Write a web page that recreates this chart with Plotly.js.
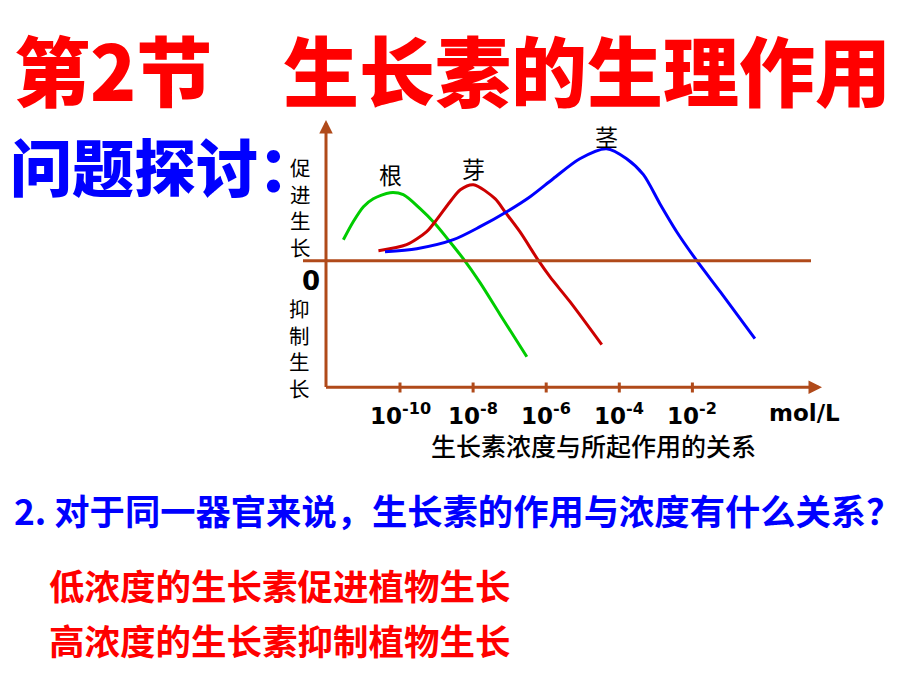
<!DOCTYPE html>
<html>
<head>
<meta charset="utf-8">
<script src="https://cdn.plot.ly/plotly-3.0.1.min.js"></script>
<style>
  html, body { margin: 0; padding: 0; background: #fff; }
  #chart { width: 920px; height: 690px; }
</style>
</head>
<body>
<div id="chart"></div>
<script>
// curve data: x = log10(concentration, mol/L), y = effect (+ promote, - inhibit)
const organNames = ["根", "芽", "茎"];

const rootConc = [-11.55, -11.28, -11.0, -10.73, -10.27, -9.91, -9.45, -9.04, -8.68, -8.27, -7.81, -7.26, -6.53];
const rootEffect = [0.21, 0.39, 0.54, 0.62, 0.68, 0.66, 0.52, 0.37, 0.21, 0.02, -0.22, -0.54, -0.96];

const budConc = [-10.59, -9.82, -9.27, -9.04, -8.63, -8.35, -7.99, -7.4, -7.13, -6.72, -6.21, -5.9, -5.35, -4.48];
const budEffect = [0.10, 0.16, 0.29, 0.39, 0.59, 0.71, 0.76, 0.62, 0.49, 0.29, 0.0, -0.16, -0.41, -0.84];

const stemConc = [-10.41, -9.54, -8.54, -7.81, -7.08, -6.44, -5.81, -5.08, -4.35, -3.8, -3.34, -2.89, -2.43, -1.88, -1.24, -0.29];
const stemEffect = [0.09, 0.12, 0.21, 0.34, 0.49, 0.64, 0.82, 1.02, 1.12, 1.02, 0.86, 0.57, 0.29, 0.0, -0.31, -0.78];

const tickExps = [-10, -8, -6, -4, -2];
const tickLabels = ["10<sup>-10</sup>", "10<sup>-8</sup>", "10<sup>-6</sup>", "10<sup>-4</sup>", "10<sup>-2</sup>"];

const upLabel = ["促", "进", "生", "长"];
const downLabel = ["抑", "制", "生", "长"];

const axisColor = "#b04a1a";
const curveColors = ["#00cc00", "#cc0000", "#0000ff"];
const cjk = "Noto Sans CJK SC, sans-serif";
const latin = "DejaVu Sans, Verdana, sans-serif";

// the plot area covers the whole page, so pixel positions map straight to data
const W = 920, H = 690;
function dx(px) { return -10 + (px - 400) / 36.55; }
function dy(py) { return (260.7 - py) / 100; }
function paperX(px) { return px / W; }
function paperY(py) { return 1 - py / H; }

const series = [
  { x: rootConc, y: rootEffect },
  { x: budConc, y: budEffect },
  { x: stemConc, y: stemEffect }
];

const traces = series.map((s, i) => ({
  x: s.x,
  y: s.y,
  type: "scatter",
  mode: "lines",
  name: organNames[i],
  line: { color: curveColors[i], width: 3, shape: "spline", smoothing: 0.8 },
  hoverinfo: "skip"
}));

const shapes = [];
const annotations = [];

function label(px, py, text, font, xanchor) {
  annotations.push({
    xref: "paper", yref: "paper", x: paperX(px), y: paperY(py),
    xanchor: xanchor || "center", yanchor: "middle",
    text: text, showarrow: false, font: font
  });
}

// zero line
shapes.push({
  type: "line", xref: "x", yref: "y",
  x0: dx(303), x1: dx(811), y0: 0, y1: 0,
  line: { color: axisColor, width: 3 }
});

// tick marks on the concentration axis
for (const t of tickExps) {
  shapes.push({
    type: "line", xref: "x", yref: "y",
    x0: t, x1: t, y0: dy(382.5), y1: dy(392.5),
    line: { color: axisColor, width: 3 }
  });
}

// axes with arrow heads
annotations.push({
  xref: "x", yref: "y", axref: "x", ayref: "y",
  x: dx(326), y: dy(120), ax: dx(326), ay: dy(388.5),
  text: "", showarrow: true, arrowhead: 2, arrowsize: 0.9, arrowwidth: 3, arrowcolor: axisColor, standoff: 0
});
annotations.push({
  xref: "x", yref: "y", axref: "x", ayref: "y",
  x: dx(822), y: dy(387.3), ax: dx(324.5), ay: dy(387.3),
  text: "", showarrow: true, arrowhead: 2, arrowsize: 0.9, arrowwidth: 3, arrowcolor: axisColor, standoff: 0
});

// tick labels
tickExps.forEach((t, i) => {
  annotations.push({
    xref: "x", yref: "y", x: t, y: dy(414), xanchor: "center", yanchor: "middle",
    text: "<b>" + tickLabels[i] + "</b>", showarrow: false,
    font: { family: latin, size: 23, color: "#000" }
  });
});
label(804, 413, "<b>mol/L</b>", { family: latin, size: 23, color: "#000" });
label(593, 445, "生长素浓度与所起作用的关系", { family: cjk, size: 25, color: "#000", weight: 500 });

// curve names over their peaks
const nameShift = [19, 17, 13];
series.forEach((s, i) => {
  const k = s.y.indexOf(Math.max(...s.y));
  annotations.push({
    xref: "x", yref: "y", x: s.x[k], y: s.y[k],
    yshift: nameShift[i], xanchor: "center", yanchor: "middle",
    text: organNames[i], showarrow: false,
    font: { family: cjk, size: 23, color: "#000" }
  });
});

// vertical axis words, stacked one character per line
label(300, 207, upLabel.join("<br>"), { family: cjk, size: 20.5, color: "#000" });
label(299, 348, downLabel.join("<br>"), { family: cjk, size: 20.5, color: "#000" });
label(311, 281, "<b>0</b>", { family: latin, size: 26, color: "#000" });

// slide texts
label(12, 68, "第2节", { family: cjk, size: 76, color: "#ff0000", weight: 900 }, "left");
label(281, 68, "生长素的生理作用", { family: cjk, size: 76, color: "#ff0000", weight: 900 }, "left");
label(8, 165, "问题探讨：", { family: cjk, size: 62, color: "#0000ff", weight: 900 }, "left");
label(12, 509, "2. 对于同一器官来说，生长素的作用与浓度有什么关系？", { family: cjk, size: 35.3, color: "#0000ff", weight: 700 }, "left");
label(47, 584, "低浓度的生长素促进植物生长", { family: cjk, size: 35.5, color: "#ff0000", weight: 700 }, "left");
label(47, 639, "高浓度的生长素抑制植物生长", { family: cjk, size: 35.5, color: "#ff0000", weight: 700 }, "left");

const layout = {
  width: W,
  height: H,
  margin: { l: 0, r: 0, t: 0, b: 0 },
  paper_bgcolor: "#fff",
  plot_bgcolor: "#fff",
  showlegend: false,
  xaxis: { range: [dx(0), dx(W)], visible: false, fixedrange: true },
  yaxis: { range: [dy(H), dy(0)], visible: false, fixedrange: true },
  shapes: shapes,
  annotations: annotations
};

Plotly.newPlot("chart", traces, layout, { displayModeBar: false, staticPlot: true });
</script>
</body>
</html>
